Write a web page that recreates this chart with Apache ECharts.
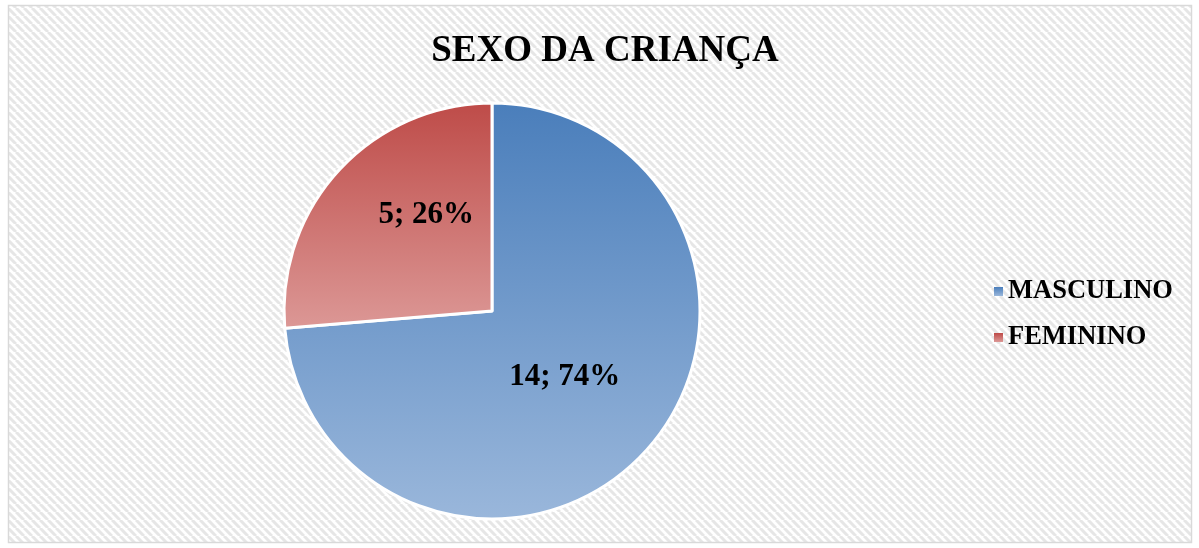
<!DOCTYPE html>
<html>
<head>
<meta charset="utf-8">
<script src="https://cdn.jsdelivr.net/npm/echarts@6.0.0/dist/echarts.min.js"></script>
<style>
  html, body { margin: 0; padding: 0; background: #fff; }
  #chart { width: 1199px; height: 548px; }
</style>
</head>
<body>
<div id="chart"></div>
<script>
// dados do gráfico
var categorias = ['MASCULINO', 'FEMININO'];
var valores = [14, 5];
var titulo = 'SEXO DA CRIANÇA';

// cores (topo -> base) de cada fatia
var coresTopo = ['#4A7EBB', '#BE4B48'];
var coresBase = ['#9AB7DB', '#DC9896'];

// padrão listrado do fundo
function makeStripes() {
  var c = document.createElement('canvas');
  c.width = 8; c.height = 8;
  var ctx = c.getContext('2d');
  ctx.fillStyle = '#ffffff';
  ctx.fillRect(0, 0, 8, 8);
  ctx.strokeStyle = '#e6e6e6';
  ctx.lineWidth = 3;
  ctx.beginPath();
  for (var k = -8; k <= 16; k += 8) {
    ctx.moveTo(k, 0);
    ctx.lineTo(k + 8, 8);
  }
  ctx.stroke();
  return c;
}

var myChart = echarts.init(document.getElementById('chart'));

var labelOffsets = [[-6, -6], [13, -24]];

var option = {
  backgroundColor: '#ffffff',
  animation: false,
  graphic: [{
    type: 'rect',
    z: -10,
    shape: { x: 8.5, y: 5.5, width: 1183, height: 537 },
    style: {
      fill: { image: makeStripes(), repeat: 'repeat' },
      stroke: '#d9d9d9',
      lineWidth: 1.5
    },
    silent: true
  }],
  title: {
    text: titulo,
    left: 600,
    textAlign: 'center',
    top: 28,
    textStyle: {
      fontFamily: '"Liberation Serif", "DejaVu Serif", serif',
      fontWeight: 'bold',
      fontSize: 37,
      color: '#000'
    }
  },
  legend: {
    orient: 'vertical',
    left: 989,
    top: 273,
    icon: 'rect',
    itemWidth: 9,
    itemHeight: 9,
    itemGap: 19,
    itemStyle: { borderWidth: 0 },
    textStyle: {
      fontFamily: '"Liberation Serif", "DejaVu Serif", serif',
      fontWeight: 'bold',
      fontSize: 26.5,
      color: '#000',
      padding: [0, 0, 0, 0]
    },
    data: categorias
  },
  series: [{
    type: 'pie',
    center: [492, 311],
    radius: [0, 208],
    startAngle: 90,
    clockwise: true,
    percentPrecision: 0,
    avoidLabelOverlap: false,
    itemStyle: { borderColor: '#ffffff', borderWidth: 3 },
    label: {
      show: true,
      position: 'inside',
      formatter: '{c}; {d}%',
      fontFamily: '"Liberation Serif", "DejaVu Serif", serif',
      fontWeight: 'bold',
      fontSize: 31,
      color: '#000'
    },
    labelLine: { show: false },
    emphasis: { disabled: true },
    data: categorias.map(function (nome, i) {
      return {
        name: nome,
        value: valores[i],
        itemStyle: {
          color: new echarts.graphic.LinearGradient(0, 0, 0, 1, [
            { offset: 0, color: coresTopo[i] },
            { offset: 1, color: coresBase[i] }
          ])
        },
        label: { offset: labelOffsets[i] }
      };
    })
  }]
};

myChart.setOption(option);
</script>
</body>
</html>
